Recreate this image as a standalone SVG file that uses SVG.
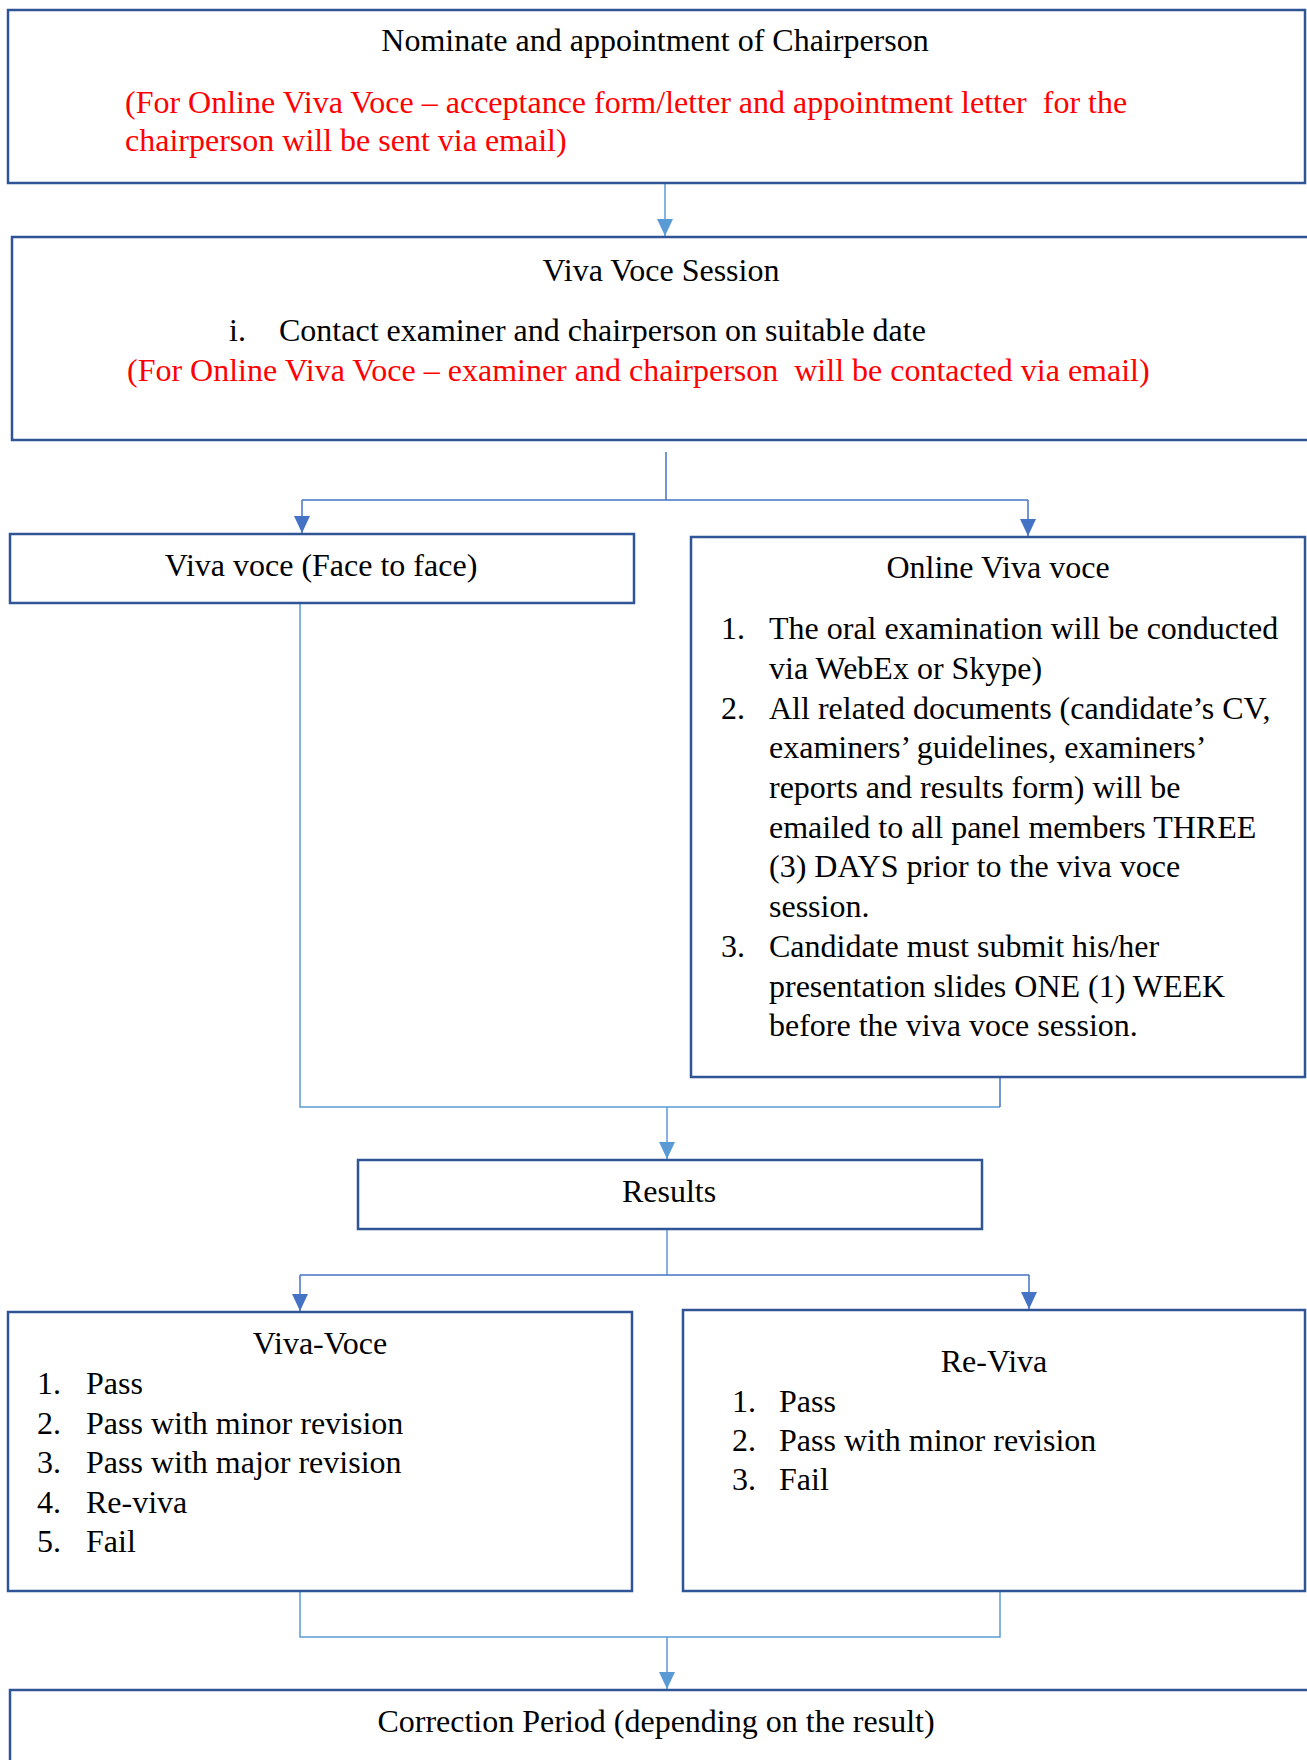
<svg xmlns="http://www.w3.org/2000/svg" width="1307" height="1760" viewBox="0 0 1307 1760">
<style>
  .box { fill: #ffffff; stroke: #2F5597; stroke-width: 2.5; }
  text { font-family: "Liberation Serif", "Times New Roman", serif; font-size: 32px; fill: #000000; white-space: pre; }
  .red { fill: #FF0000; }
  .mid { text-anchor: middle; }
  .c1 { fill: none; stroke: #5B9BD5; stroke-width: 1.5; }
  .c2 { fill: none; stroke: #4472C4; stroke-width: 1.5; }
</style>
<defs>
  <marker id="aL" markerUnits="userSpaceOnUse" markerWidth="17" markerHeight="16" refX="17" refY="8" orient="auto">
    <path d="M0,0 L17,8 L0,16 z" fill="#5B9BD5"/>
  </marker>
  <marker id="aD" markerUnits="userSpaceOnUse" markerWidth="17" markerHeight="16" refX="17" refY="8" orient="auto">
    <path d="M0,0 L17,8 L0,16 z" fill="#4472C4"/>
  </marker>
</defs>
<rect width="1307" height="1760" fill="#ffffff"/>

<g id="connectors">
  <line class="c1" x1="665" y1="184" x2="665" y2="236" marker-end="url(#aL)"/>
  <polyline class="c2" points="666,452 666,500"/>
  <polyline class="c2" points="302,500 1028,500"/>
  <line class="c2" x1="302" y1="500" x2="302" y2="533" marker-end="url(#aD)"/>
  <line class="c2" x1="1028" y1="500" x2="1028" y2="536" marker-end="url(#aD)"/>
  <polyline class="c1" points="300,604 300,1107 1000,1107"/>
  <polyline class="c2" points="1000,1078 1000,1107"/>
  <line class="c1" x1="667" y1="1107" x2="667" y2="1159" marker-end="url(#aL)"/>
  <polyline class="c1" points="667,1230 667,1275"/>
  <polyline class="c2" points="300,1275 1029,1275"/>
  <line class="c2" x1="300" y1="1275" x2="300" y2="1311" marker-end="url(#aD)"/>
  <line class="c2" x1="1029" y1="1275" x2="1029" y2="1309" marker-end="url(#aD)"/>
  <polyline class="c1" points="300,1592 300,1637 1000,1637 1000,1592"/>
  <line class="c1" x1="667" y1="1637" x2="667" y2="1689" marker-end="url(#aL)"/>
</g>

<g id="node-chairperson">
  <rect class="box" x="8" y="10" width="1297" height="173"/>
  <text class="mid" x="655" y="51">Nominate and appointment of Chairperson</text>
  <text class="red" x="125" y="113">(For Online Viva Voce – acceptance form/letter and appointment letter  for the</text>
  <text class="red" x="125" y="151">chairperson will be sent via email)</text>
</g>

<g id="node-session">
  <rect class="box" x="12" y="237" width="1300" height="203"/>
  <text class="mid" x="661" y="281">Viva Voce Session</text>
  <text x="229" y="341">i.</text>
  <text x="279" y="341">Contact examiner and chairperson on suitable date</text>
  <text class="red" x="127" y="381">(For Online Viva Voce – examiner and chairperson  will be contacted via email)</text>
</g>

<g id="node-face">
  <rect class="box" x="10" y="534" width="624" height="69"/>
  <text class="mid" x="321" y="576">Viva voce (Face to face)</text>
</g>

<g id="node-online">
  <rect class="box" x="691" y="537" width="614" height="540"/>
  <text class="mid" x="998" y="578">Online Viva voce</text>
  <text x="721" y="639">1.</text>
  <text x="769" y="639">The oral examination will be conducted</text>
  <text x="769" y="679">via WebEx or Skype)</text>
  <text x="721" y="719">2.</text>
  <text x="769" y="719">All related documents (candidate’s CV,</text>
  <text x="769" y="758">examiners’ guidelines, examiners’</text>
  <text x="769" y="798">reports and results form) will be</text>
  <text x="769" y="838">emailed to all panel members THREE</text>
  <text x="769" y="877">(3) DAYS prior to the viva voce</text>
  <text x="769" y="917">session.</text>
  <text x="721" y="957">3.</text>
  <text x="769" y="957">Candidate must submit his/her</text>
  <text x="769" y="997">presentation slides ONE (1) WEEK</text>
  <text x="769" y="1036">before the viva voce session.</text>
</g>

<g id="node-results">
  <rect class="box" x="358" y="1160" width="624" height="69"/>
  <text class="mid" x="669" y="1202">Results</text>
</g>

<g id="node-vivavoce">
  <rect class="box" x="8" y="1312" width="624" height="279"/>
  <text class="mid" x="320" y="1354">Viva-Voce</text>
  <text x="37" y="1394">1.</text><text x="86" y="1394">Pass</text>
  <text x="37" y="1434">2.</text><text x="86" y="1434">Pass with minor revision</text>
  <text x="37" y="1473">3.</text><text x="86" y="1473">Pass with major revision</text>
  <text x="37" y="1513">4.</text><text x="86" y="1513">Re-viva</text>
  <text x="37" y="1552">5.</text><text x="86" y="1552">Fail</text>
</g>

<g id="node-reviva">
  <rect class="box" x="683" y="1310" width="622" height="281"/>
  <text class="mid" x="994" y="1372">Re-Viva</text>
  <text x="732" y="1412">1.</text><text x="779" y="1412">Pass</text>
  <text x="732" y="1451">2.</text><text x="779" y="1451">Pass with minor revision</text>
  <text x="732" y="1490">3.</text><text x="779" y="1490">Fail</text>
</g>

<g id="node-correction">
  <rect class="box" x="10" y="1690" width="1302" height="100"/>
  <text class="mid" x="656" y="1732">Correction Period (depending on the result)</text>
</g>
</svg>
